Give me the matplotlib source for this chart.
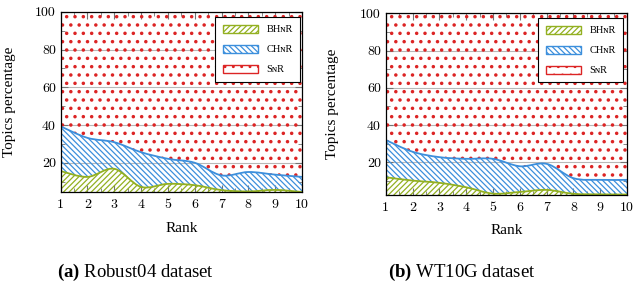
import numpy as np
import matplotlib as mpl
import matplotlib.pyplot as plt
from matplotlib.path import Path
from matplotlib.patches import PathPatch, Patch
from matplotlib.ticker import MultipleLocator

plt.rcParams['font.family'] = ['Liberation Serif', 'DejaVu Serif']
plt.rcParams['mathtext.fontset'] = 'custom'
plt.rcParams['mathtext.bf'] = 'Liberation Serif:bold'
plt.rcParams['hatch.linewidth'] = 0.9

ranks = np.arange(1, 11)

# Robust04 (percent of topics per class at each rank)
rob_bhnr = [15.6, 12.5, 16.8, 7.2, 8.8, 8.1, 5.5, 4.8, 5.6, 4.5]
rob_chnr = [23.7, 20.7, 14.1, 18.4, 13.3, 11.9, 7.8, 10.3, 8.1, 8.0]
rob_snr = [60.7, 66.8, 69.1, 74.4, 77.9, 80.0, 86.7, 84.9, 86.3, 87.5]

# WT10G
wt_bhnr = [11.9, 10.1, 8.9, 6.5, 3.1, 4.0, 5.1, 3.0, 2.7, 2.6]
wt_chnr = [20.0, 15.5, 13.8, 15.3, 18.7, 13.8, 14.0, 8.4, 7.8, 7.9]
wt_snr = [68.1, 74.4, 77.3, 78.2, 78.2, 82.2, 80.9, 88.6, 89.5, 89.5]

labels = ['BH\u0274R', 'CH\u0274R', 'S\u0274R']
colors = ['#93b021', '#3c8fdc', '#dc2424']
hatches = ['//////', '\\\\\\\\\\\\', '..']
hatch_lw = [0.9, 0.9, 1.3]


def smooth(x, y, k=0.5):
    # cubic bezier through the points (cardinal spline), like pgfplots "smooth"
    p = np.column_stack([x, y]).astype(float)
    t = np.zeros_like(p)
    t[1:-1] = k * (p[2:] - p[:-2])
    t[0] = k * (p[1] - p[0])
    t[-1] = k * (p[-1] - p[-2])
    verts = [p[0]]
    for i in range(len(p) - 1):
        verts += [p[i] + t[i] / 3, p[i + 1] - t[i + 1] / 3, p[i + 1]]
    return np.array(verts)


def band(x, lo, hi):
    up = smooth(x, hi)
    dn = smooth(x, lo)[::-1]
    verts = np.vstack([up, dn, up[:1]])
    codes = ([Path.MOVETO] + [Path.CURVE4] * (len(up) - 1) +
             [Path.LINETO] + [Path.CURVE4] * (len(dn) - 1) + [Path.CLOSEPOLY])
    return Path(verts, codes)


fig = plt.figure(figsize=(6.35, 2.84), dpi=100)
axes = [fig.add_axes([0.0955, 0.324, 0.380, 0.634]),
        fig.add_axes([0.6075, 0.315, 0.380, 0.638])]
sets = [(rob_bhnr, rob_chnr, rob_snr), (wt_bhnr, wt_chnr, wt_snr)]
captions = [r'$\mathbf{(a)}$ Robust04 dataset', r'$\mathbf{(b)}$ WT10G dataset']
cap_x = [0.214, 0.728]
leg_anchor = [(0.992, 0.97), (0.983, 0.973)]
ylab_x = [-0.186, -0.194]

for ax, data, cap, cx, anc, yx in zip(axes, sets, captions, cap_x, leg_anchor, ylab_x):
    layers = np.cumsum(np.array(data), axis=0)
    lowers = [np.zeros(len(ranks)), layers[0], layers[1]]
    for k in range(3):
        with mpl.rc_context({'hatch.linewidth': hatch_lw[k]}):
            ax.add_patch(PathPatch(band(ranks, lowers[k], layers[k]), facecolor='none',
                                   edgecolor=colors[k], hatch=hatches[k], lw=0, zorder=2))
        if k < 2:
            top = smooth(ranks, layers[k])
            codes = [Path.MOVETO] + [Path.CURVE4] * (len(top) - 1)
            ax.add_patch(PathPatch(Path(top, codes), fill=False, edgecolor=colors[k],
                                   lw=1.3, zorder=3))

    ax.set_xlim(1, 10)
    ax.set_ylim(min(data[0]), 100)
    ax.set_xticks(ranks)
    ax.set_yticks([20, 40, 60, 80, 100])
    ax.xaxis.set_minor_locator(MultipleLocator(0.5))
    ax.yaxis.set_minor_locator(MultipleLocator(10))
    ax.yaxis.grid(True, color='0.72', lw=0.8)
    ax.set_axisbelow(True)
    ax.tick_params(which='both', direction='in', top=True, right=True, color='0.45')
    ax.tick_params(which='major', length=5, width=0.8, labelsize=10)
    ax.tick_params(which='minor', length=3, width=0.6)
    ax.tick_params(axis='x', pad=5)
    ax.tick_params(axis='y', pad=3.5)
    for lab in ax.get_xticklabels() + ax.get_yticklabels():
        lab.set_fontfamily('cmr10')
    for sp in ax.spines.values():
        sp.set_linewidth(0.9)
        sp.set_zorder(4)

    ax.set_xlabel('Rank', fontsize=11)
    ax.set_ylabel('Topics percentage', fontsize=11)
    ax.xaxis.set_label_coords(0.5, -0.165)
    ax.yaxis.set_label_coords(yx, 0.5)

    handles = []
    for c, h, hl in zip(colors, hatches, hatch_lw):
        with mpl.rc_context({'hatch.linewidth': hl}):
            handles.append(Patch(facecolor='white', edgecolor=c, hatch=h, lw=1.0))
    leg = ax.legend(handles, labels, loc='upper right', bbox_to_anchor=anc,
                    borderaxespad=0, fontsize=7.5, handlelength=3.4, handleheight=0.8,
                    handletextpad=0.8, labelspacing=1.0, borderpad=0.7,
                    fancybox=False, framealpha=1, edgecolor='black')
    leg.get_frame().set_linewidth(0.8)
    leg.set_zorder(5)

    fig.text(cx, 0.042, cap, ha='center', va='center', fontsize=13.5)

fig.savefig('out.png', dpi=100)
